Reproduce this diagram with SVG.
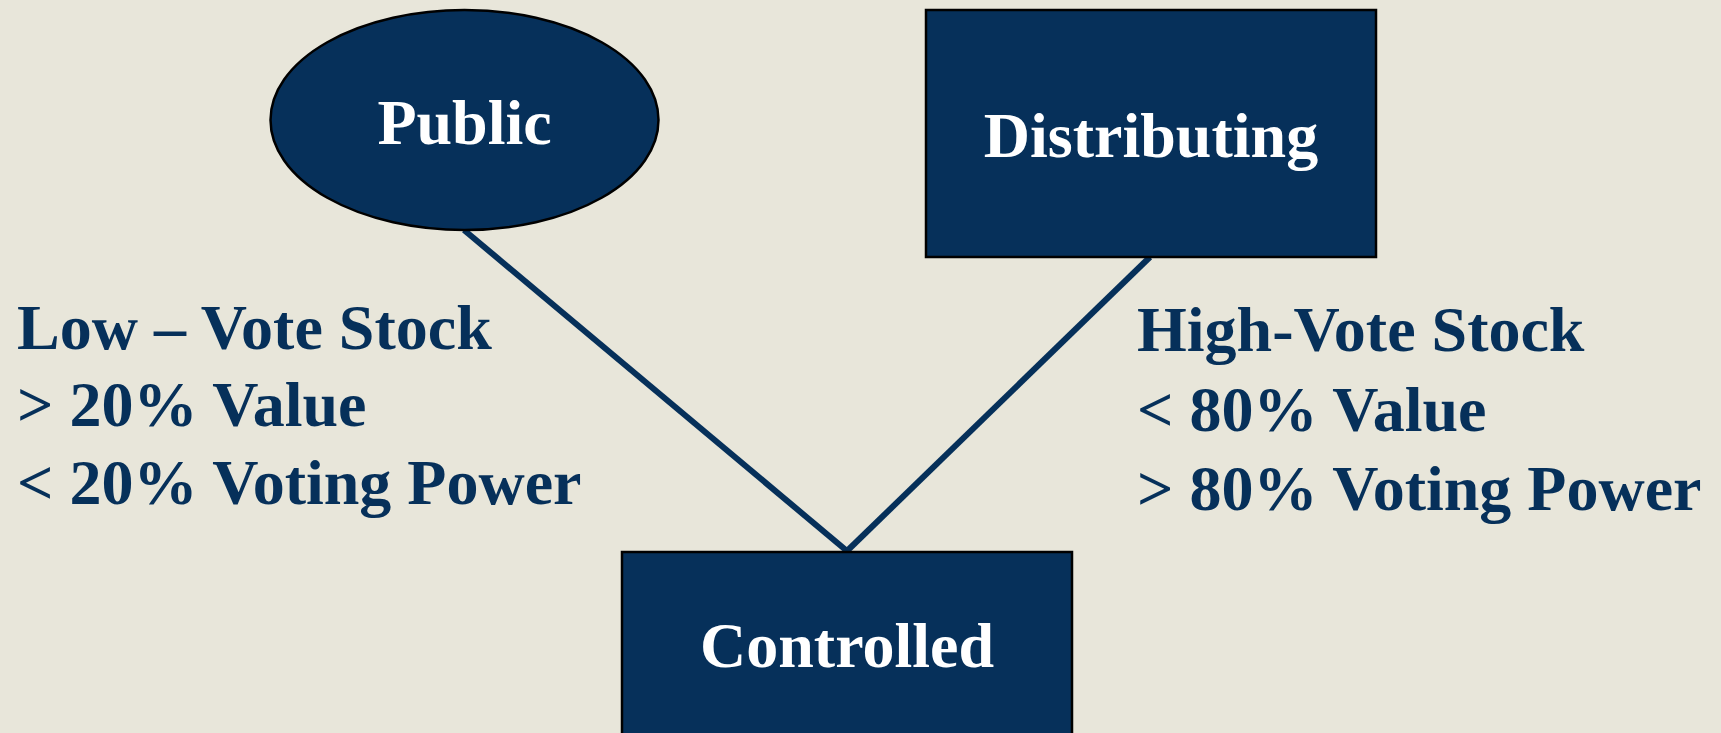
<svg xmlns="http://www.w3.org/2000/svg" width="1721" height="733" viewBox="0 0 1721 733">
<style>
.node{fill:#06305a;stroke:#000;stroke-width:2.5}
.nt{font-family:"Liberation Serif",serif;font-weight:bold;font-size:64px;fill:#fff;text-anchor:middle}
.lbl{font-family:"Liberation Serif",serif;font-weight:bold;font-size:64px;fill:#06305a}
.conn{stroke:#06305a;stroke-width:6;fill:none}
</style>
<rect width="1721" height="733" fill="#e8e6da"/>
<g id="connectors">
<line class="conn" x1="464" y1="230" x2="847" y2="551"/>
<line class="conn" x1="1150" y1="257" x2="847" y2="551"/>
</g>
<g id="public">
<ellipse class="node" cx="464.5" cy="120" rx="194" ry="110"/>
<text class="nt" x="464.5" y="144">Public</text>
</g>
<g id="distributing">
<rect class="node" x="926" y="10" width="450" height="247"/>
<text class="nt" x="1151" y="157">Distributing</text>
</g>
<g id="controlled">
<rect class="node" x="622" y="552" width="450" height="200"/>
<text class="nt" x="847" y="667">Controlled</text>
</g>
<g id="left-label">
<text class="lbl" x="17" y="349">Low – Vote Stock</text>
<text class="lbl" x="17" y="426">&gt; 20% Value</text>
<text class="lbl" x="17" y="504">&lt; 20% Voting Power</text>
</g>
<g id="right-label">
<text class="lbl" x="1137" y="351">High-Vote Stock</text>
<text class="lbl" x="1137" y="431">&lt; 80% Value</text>
<text class="lbl" x="1137" y="510">&gt; 80% Voting Power</text>
</g>
</svg>
